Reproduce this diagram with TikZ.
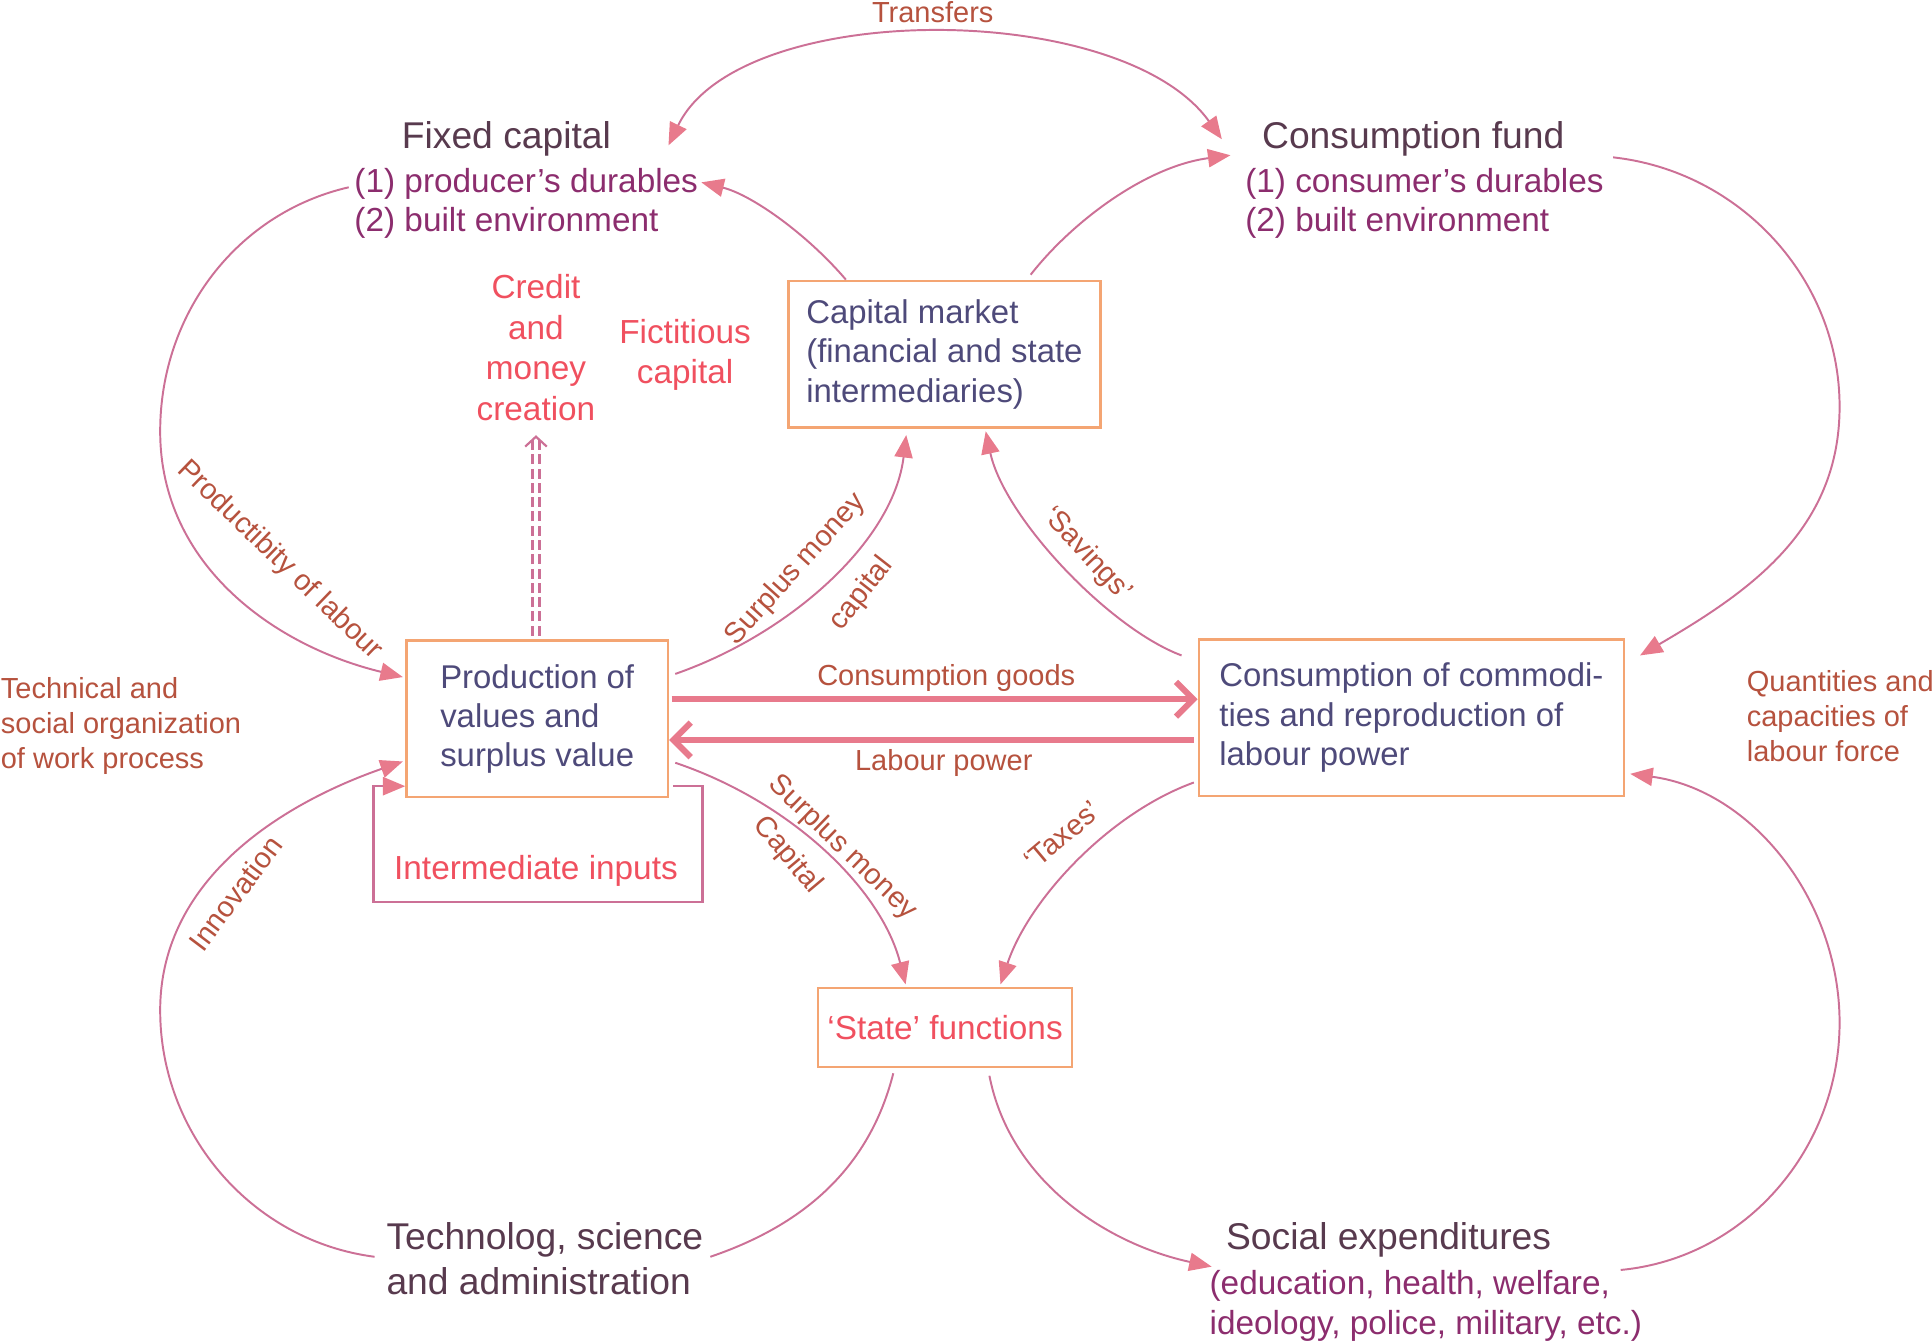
\documentclass[tikz,border=0pt]{standalone}
\usepackage{fontspec}
\setmainfont{Liberation Sans}
\usetikzlibrary{positioning,arrows.meta}
\definecolor{boxline}{RGB}{244,165,115}
\definecolor{boxc}{RGB}{78,74,122}
\definecolor{headc}{RGB}{88,58,78}
\definecolor{subc}{RGB}{140,45,110}
\definecolor{redc}{RGB}{240,80,95}
\definecolor{brownc}{RGB}{182,82,62}
\definecolor{linec}{RGB}{204,112,150}
\definecolor{tipc}{RGB}{232,122,140}

\begin{document}
\begin{tikzpicture}[%
	x=0.1mm, y=-0.1mm,
	>={Triangle[length=5.2pt,width=4.2pt,color=tipc]},
	inner sep=0pt,
	flow/.style={draw=linec, line width=0.45pt, ->},
	plain/.style={draw=linec, line width=0.45pt},
	bigflow/.style={draw=tipc, line width=1.4pt, -{Straight Barb[length=4pt,width=8pt]}},
	dbl/.style={draw=linec, line width=0.5pt, double=white, double distance=1.1pt,
		dash pattern=on 2.3pt off 1pt, -{Straight Barb[length=2.3pt,width=5pt]}},
	pbox/.style={draw=boxline, line width=0.6pt, align=left, text=boxc,
		font=\fontsize{7.6}{9.1}\selectfont},
	head/.style={font=\fontsize{8.6}{10.5}\selectfont, text=headc},
	sub/.style={font=\fontsize{7.7}{9.1}\selectfont, text=subc, align=left},
	redl/.style={font=\fontsize{7.7}{9.4}\selectfont, text=redc, align=center},
	lbl/.style={font=\fontsize{6.7}{8.1}\selectfont, text=brownc}
	]
	\useasboundingbox (0,0) rectangle (1568,1090);
	
	% stocks
	\node[head] (fixed) at (411,113) {Fixed capital};
	\node[sub, anchor=west] (fixedlist) at (287,165) {(1) producer’s durables\\(2) built environment};
	\node[head] (fund) at (1147,113) {Consumption fund};
	\node[sub, anchor=west] (fundlist) at (1010,165) {(1) consumer’s durables\\(2) built environment};
	
	% boxes
	\node[pbox, minimum width=25.3mm, minimum height=11.9mm] (capmkt) at (766.5,287.5) {Capital market\\(financial and state\\intermediaries)};
	\node[pbox, minimum width=21.2mm, minimum height=12.7mm] (prod) at (436,583.5) {Production of\\values and\\surplus value};
	\node[pbox, minimum width=34.5mm, minimum height=12.7mm] (cons) at (1145.5,582.5) {Consumption of commodi-\\ties and reproduction of\\labour power};
	\node[pbox, redl, minimum width=20.6mm, minimum height=6.4mm] (state) at (767,834) {‘State’ functions};
	
	\node[redl] (credit) at (435,282) {Credit\\and\\money\\creation};
	\node[redl] (fict) at (556,288) {Fictitious\\capital};
	\node[redl] (interm) at (435,707) {Intermediate inputs};
	
	\node[head, anchor=west, align=left] (tech) at (313,1021.5) {Technolog, science\\and administration};
	\node[head] (socialt) at (1127,1006) {Social expenditures};
	\node[sub, anchor=west] (sociallist) at (981,1060) {(education, health, welfare,\\ideology, police, military, etc.)};
	
	\node[lbl, anchor=west, align=left] (techorg) at (0,589) {Technical and\\social organization\\of work process};
	\node[lbl, anchor=west, align=left] (quant) at (1417,581) {Quantities and\\capacities of\\labour force};
	
	% connector labels
	\node[lbl] (transf) at (757,10) {Transfers};
	\node[lbl, rotate=-44] (prodlab) at (227,455) {Productibity of labour};
	\node[lbl, rotate=48] (sm1) at (646,462) {Surplus money};
	\node[lbl, rotate=52] (cap1) at (699,482) {capital};
	\node[lbl, rotate=-47] (sav) at (882,450) {‘Savings’};
	\node[lbl] (cgoods) at (768,550) {Consumption goods};
	\node[lbl] (lpower) at (766,619) {Labour power};
	\node[lbl, rotate=53] (innov) at (191,725) {Innovation};
	\node[lbl, rotate=-44] (sm2) at (684,688) {Surplus money};
	\node[lbl, rotate=-50] (cap2) at (639,694) {Capital};
	\node[lbl, rotate=40] (tax) at (862,678) {‘Taxes’};
	
	% top
	\draw[flow, <->] ([shift={(46,5)}]fixed.east) .. controls (600,-1) and (910,-1) .. ([shift={(-32,0)}]fund.west);
	\draw[flow] ([shift={(-80,0)}]capmkt.north) .. controls (655,190) and (610,158) .. ([shift={(2,-17)}]fixedlist.east);
	\draw[flow] ([shift={(70,-4)}]capmkt.north) .. controls (870,180) and (930,135) .. ([shift={(-25,13)}]fund.west);
	\draw[flow] ([shift={(-4,-13)}]fixedlist.west) .. controls (192,173) and (130,255) .. (130,350)
		.. controls (130,460) and (225,525) .. ([shift={(-2,-34)}]prod.west);
	\draw[flow] ([shift={(7,-8)}]fundlist.north east) .. controls (1412,139) and (1493,226) .. (1493,330)
		.. controls (1493,430) and (1420,480) .. ([shift={(12,14)}]cons.north east);
	\draw[flow] ([shift={(5,28)}]prod.north east) .. controls (640,515) and (725,440) .. ([shift={(-31,5)}]capmkt.south);
	\draw[flow] ([shift={(-13,14)}]cons.north west) .. controls (900,510) and (815,420) .. ([shift={(33.5,2)}]capmkt.south);
	
	% middle
	\draw[bigflow] ([shift={(2,-16)}]prod.east) coordinate (cg) -- (cg -| cons.west);
	\draw[bigflow] ([shift={(-3,18)}]cons.west) coordinate (lp) -- (lp -| prod.east);
	\draw[dbl] ([shift={(-1,-3)}]prod.north) -- ([shift={(0,11)}]credit.south);
	\draw[plain, line width=0.55pt, ->] ([shift={(3,-10)}]prod.south east) -- ++(24,0) -- ++(0,94) -- ++(-267,0) -- ++(0,-94) -- ([shift={(0,-10)}]prod.south west);
	
	% bottom
	\draw[flow] ([shift={(5,-29)}]prod.south east) .. controls (640,650) and (715,720) .. ([shift={(-32,-2)}]state.north);
	\draw[flow] ([shift={(-3,-12)}]cons.south west) .. controls (900,660) and (835,730) .. ([shift={(45,-2)}]state.north);
	\draw[flow] ([shift={(-9,-1.5)}]tech.west) .. controls (204,1007) and (130,920) .. (130,820)
		.. controls (130,710) and (235,650) .. ([shift={(-2,34.5)}]prod.west);
	\draw[plain] ([shift={(-42,4)}]state.south) .. controls (705,950) and (650,995) .. ([shift={(5,-1.5)}]tech.east);
	\draw[flow] ([shift={(36,6)}]state.south) .. controls (820,960) and (900,1010) .. ([shift={(-11,22)}]socialt.west);
	\draw[flow] ([shift={(-18,0)}]sociallist.north east) .. controls (1418,1021) and (1493,931) .. (1493,830)
		.. controls (1493,730) and (1421,641) .. ([shift={(4,-19)}]cons.south east);
	
\end{tikzpicture}
\end{document}
